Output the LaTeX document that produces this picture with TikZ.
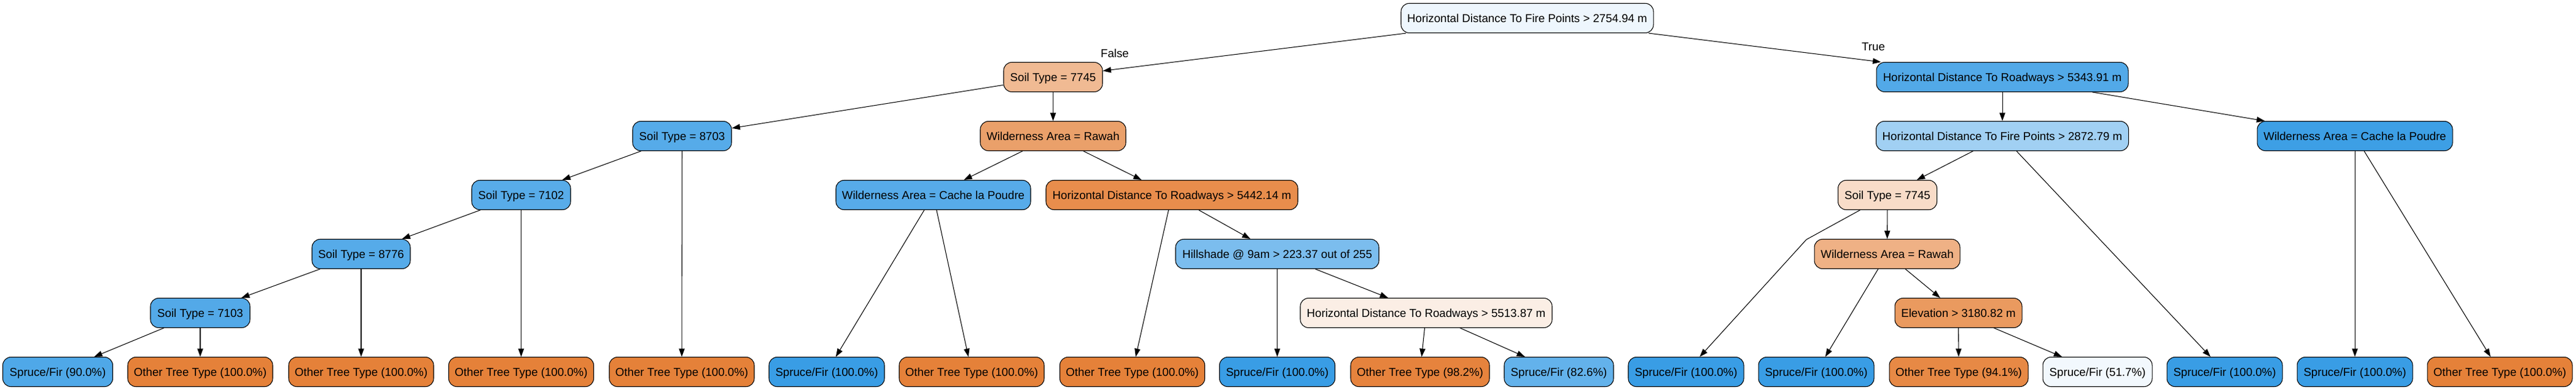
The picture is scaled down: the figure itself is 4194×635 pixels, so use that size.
\documentclass[tikz,border=0pt]{standalone}
\usepackage{fontspec}
\setmainfont{Liberation Sans}
\usetikzlibrary{arrows.meta}
\definecolor{cOF}{HTML}{E58139}
\definecolor{cSF}{HTML}{399DE5}
\definecolor{cSF90}{HTML}{4FA8E8}
\definecolor{cOF98}{HTML}{E6833D}
\definecolor{cSF83}{HTML}{63B2EB}
\definecolor{cOF94}{HTML}{E78945}
\definecolor{cSF52}{HTML}{F2F8FD}
\definecolor{cRoot}{HTML}{EEF6FD}
\definecolor{cNa}{HTML}{F0BA93}
\definecolor{cNb}{HTML}{52A9E8}
\definecolor{cNc}{HTML}{56ABE9}
\definecolor{cNd}{HTML}{EAA06A}
\definecolor{cNe}{HTML}{A1D0F3}
\definecolor{cNf}{HTML}{3D9FE5}
\definecolor{cNg}{HTML}{58ACE9}
\definecolor{cNh}{HTML}{57ABE9}
\definecolor{cNi}{HTML}{E88D4C}
\definecolor{cNj}{HTML}{F8DCC8}
\definecolor{cNk}{HTML}{56ABE9}
\definecolor{cNl}{HTML}{7BBDEE}
\definecolor{cNm}{HTML}{EFB185}
\definecolor{cNn}{HTML}{53A9E8}
\definecolor{cNo}{HTML}{FBEEE5}
\definecolor{cNp}{HTML}{EA9A5F}
\begin{document}
\begin{tikzpicture}[x=0.75pt,y=-0.75pt,
  box/.style={draw=black,line width=0.8pt,rounded corners=10pt,minimum height=36pt,
    inner xsep=0pt,inner ysep=0pt,text height=10pt,text depth=0pt,
    font=\fontsize{14}{16}\selectfont},
  wd/.style={minimum width=#1*0.75pt},
  lbl/.style={font=\fontsize{14}{16}\selectfont,inner sep=0pt},
  edge/.style={draw=black,line width=0.8pt,-{Triangle[length=10pt,width=7pt]}}]
\useasboundingbox (0,0) rectangle (4194,635);
% level 0
\node[box,wd=411,fill=cRoot] (root) at (2486.5,29.5) {Horizontal Distance To Fire Points > 2754.94 m};
% level 1
\node[box,wd=161,fill=cNa] (n1) at (1714.5,125.5) {Soil Type = 7745};
\node[box,wd=410,fill=cNb] (n2) at (3260,125.5) {Horizontal Distance To Roadways > 5343.91 m};
% level 2
\node[box,wd=161,fill=cNc] (n3) at (1110.5,221.5) {Soil Type = 8703};
\node[box,wd=237,fill=cNd] (n4) at (1714.5,221.5) {Wilderness Area = Rawah};
\node[box,wd=411,fill=cNe] (n5) at (3260,221.5) {Horizontal Distance To Fire Points > 2872.79 m};
\node[box,wd=318,fill=cNf] (n6) at (3834,221.5) {Wilderness Area = Cache la Poudre};
% level 3
\node[box,wd=161,fill=cNg] (n7) at (848.5,317.5) {Soil Type = 7102};
\node[box,wd=317,fill=cNh] (n8) at (1519.5,317.5) {Wilderness Area = Cache la Poudre};
\node[box,wd=410,fill=cNi] (n9) at (1908,317.5) {Horizontal Distance To Roadways > 5442.14 m};
\node[box,wd=161,fill=cNj] (n10) at (3073,317.5) {Soil Type = 7745};
% level 4
\node[box,wd=160,fill=cNk] (n11) at (588,413.5) {Soil Type = 8776};
\node[box,wd=331,fill=cNl] (n12) at (2079.5,413.5) {Hillshade @ 9am > 223.37 out of 255};
\node[box,wd=237,fill=cNm] (n13) at (3072.5,413.5) {Wilderness Area = Rawah};
% level 5
\node[box,wd=162,fill=cNn] (n14) at (326,509.5) {Soil Type = 7103};
\node[box,wd=410,fill=cNo] (n15) at (2322,509.5) {Horizontal Distance To Roadways > 5513.87 m};
\node[box,wd=207,fill=cNp] (n16) at (3188.5,509.5) {Elevation > 3180.82 m};
% leaves
\node[box,wd=179,fill=cSF90] (l1) at (94,605.5) {Spruce/Fir (90.0\%)};
\node[box,wd=236,fill=cOF] (l2) at (326,605.5) {Other Tree Type (100.0\%)};
\node[box,wd=236,fill=cOF] (l3) at (588,605.5) {Other Tree Type (100.0\%)};
\node[box,wd=236,fill=cOF] (l4) at (848.5,605.5) {Other Tree Type (100.0\%)};
\node[box,wd=236,fill=cOF] (l5) at (1110,605.5) {Other Tree Type (100.0\%)};
\node[box,wd=188,fill=cSF] (l6) at (1346,605.5) {Spruce/Fir (100.0\%)};
\node[box,wd=236,fill=cOF] (l7) at (1582,605.5) {Other Tree Type (100.0\%)};
\node[box,wd=236,fill=cOF] (l8) at (1843.5,605.5) {Other Tree Type (100.0\%)};
\node[box,wd=188,fill=cSF] (l9) at (2079.5,605.5) {Spruce/Fir (100.0\%)};
\node[box,wd=226,fill=cOF98] (l10) at (2312,605.5) {Other Tree Type (98.2\%)};
\node[box,wd=178,fill=cSF83] (l11) at (2538,605.5) {Spruce/Fir (82.6\%)};
\node[box,wd=188,fill=cSF] (l12) at (2745,605.5) {Spruce/Fir (100.0\%)};
\node[box,wd=188,fill=cSF] (l13) at (2957,605.5) {Spruce/Fir (100.0\%)};
\node[box,wd=226,fill=cOF94] (l14) at (3189,605.5) {Other Tree Type (94.1\%)};
\node[box,wd=178,fill=cSF52] (l15) at (3415,605.5) {Spruce/Fir (51.7\%)};
\node[box,wd=188,fill=cSF] (l16) at (3622,605.5) {Spruce/Fir (100.0\%)};
\node[box,wd=188,fill=cSF] (l17) at (3834,605.5) {Spruce/Fir (100.0\%)};
\node[box,wd=236,fill=cOF] (l18) at (4070,605.5) {Other Tree Type (100.0\%)};
% edge labels
\node[lbl] (lf) at (1815,87) {False};
\node[lbl] (lt) at (3050,76) {True};
% bend point
\coordinate (bend) at (2941,390);
% edges
\draw[edge] (root) -- (n1);
\draw[edge] (root) -- (n2);
\draw[edge] (n1) -- (n3);
\draw[edge] (n1) -- (n4);
\draw[edge] (n2) -- (n5);
\draw[edge] (n2) -- (n6);
\draw[edge] (n3) -- (n7);
\draw[edge] (n3) -- (l5);
\draw[edge] (n4) -- (n8);
\draw[edge] (n4) -- (n9);
\draw[edge] (n5) -- (n10);
\draw[edge] (n5) -- (l16);
\draw[edge] (n6) -- (l17);
\draw[edge] (n6) -- (l18);
\draw[edge] (n7) -- (n11);
\draw[edge] (n7) -- (l4);
\draw[edge] (n8) -- (l6);
\draw[edge] (n8) -- (l7);
\draw[edge] (n9) -- (l8);
\draw[edge] (n9) -- (n12);
\draw[edge] (n10) -- (bend) -- (l12);
\draw[edge] (n10) -- (n13);
\draw[edge] (n11) -- (n14);
\draw[edge] (n11) -- (l3);
\draw[edge] (n12) -- (l9);
\draw[edge] (n12) -- (n15);
\draw[edge] (n13) -- (l13);
\draw[edge] (n13) -- (n16);
\draw[edge] (n14) -- (l1);
\draw[edge] (n14) -- (l2);
\draw[edge] (n15) -- (l10);
\draw[edge] (n15) -- (l11);
\draw[edge] (n16) -- (l14);
\draw[edge] (n16) -- (l15);
\end{tikzpicture}
\end{document}
